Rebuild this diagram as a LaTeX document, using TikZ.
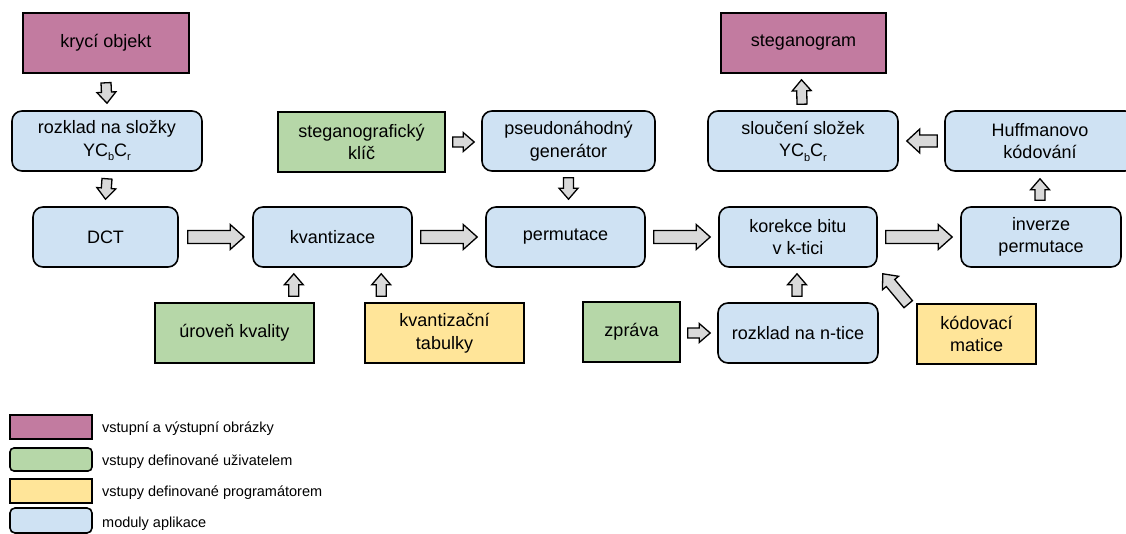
\documentclass[tikz,border=0pt]{standalone}
\usepackage{fontspec}
\setmainfont{Liberation Sans}
\usetikzlibrary{calc}

\definecolor{imgmag}{HTML}{C27BA0}
\definecolor{usrgreen}{HTML}{B6D7A8}
\definecolor{prgyellow}{HTML}{FFE599}
\definecolor{modblue}{HTML}{CFE2F3}
\definecolor{arrgray}{HTML}{D9D9D9}

\newcommand\boxfont{\fontsize{18}{22.5}\selectfont}
\newcommand\legfont{\fontsize{14.5}{17}\selectfont}
\newcommand\lowsub[1]{\raisebox{-4.5pt}{\fontsize{11}{11}\selectfont #1}}
\newcommand\ycbcr{YC\lowsub{b}C\lowsub{r}}

\tikzset{
  box/.style={draw=black, line width=1.6pt, text=black, align=center,
              inner sep=0pt, font=\boxfont, minimum height=60pt},
  modbox/.style={box, fill=modblue, rounded corners=10pt},
  imgbox/.style={box, fill=imgmag},
  userbox/.style={box, fill=usrgreen},
  progbox/.style={box, fill=prgyellow},
  arrowbody/.style={draw=black, fill=arrgray, line width=1.3pt, line join=miter},
  legtext/.style={font=\legfont, inner sep=0pt, anchor=base west, text=black},
}

% block arrow: #1 shaft half-width, #2 head half-width, #3 head length, #4 tail, #5 tip
\newcommand\blockarrow[5]{%
  \path (#4) coordinate (ba-s) (#5) coordinate (ba-e);
  \path ($(ba-e)!#3!(ba-s)$) coordinate (ba-h);
  \draw[arrowbody]
    ($(ba-s)!#1!90:(ba-e)$) -- ($(ba-h)!#1!-90:(ba-s)$) --
    ($(ba-h)!#2!-90:(ba-s)$) -- (ba-e) -- ($(ba-h)!#2!90:(ba-s)$) --
    ($(ba-h)!#1!90:(ba-s)$) -- ($(ba-s)!#1!-90:(ba-e)$) -- cycle;
}
\newcommand\bigarrow[2]{\blockarrow{6.5pt}{12.5pt}{14pt}{#1}{#2}}
\newcommand\midarrow[2]{\blockarrow{6pt}{12pt}{13pt}{#1}{#2}}
\newcommand\smallarrow[2]{\blockarrow{5pt}{9.5pt}{11pt}{#1}{#2}}

\begin{document}
\begin{tikzpicture}[x=1pt, y=-1pt]
\useasboundingbox (0,0) rectangle (1126,534);

% --- input / output images
\node[imgbox, minimum width=166pt] (kryci) at (106,43) {krycí objekt};
\node[imgbox, minimum width=165pt] (steg) at (803.5,43) {steganogram};

% --- application modules
\node[modbox, minimum width=190pt] (rozklad) at (107,141) {rozklad na složky\\\ycbcr};
\node[modbox, minimum width=145pt] (dct) at (105.5,237) {DCT};
\node[modbox, minimum width=159pt] (kvant) at (332.5,237) {kvantizace};
\node[modbox, minimum width=173pt] (pseudo) at (568.5,141) {pseudonáhodný\\generátor};
\node[modbox, minimum width=159pt] (perm) at (565.5,237) {permutace};
\node[modbox, minimum width=158pt] (korekce) at (798,237) {korekce bitu\\v k-tici};
\node[modbox, minimum width=160pt] (inverze) at (1041,237) {inverze\\permutace};
\node[modbox, minimum width=190pt] (huff) at (1040,141) {Huffmanovo\\kódování};
\node[modbox, minimum width=190pt] (slouceni) at (803,141) {sloučení složek\\\ycbcr};
\node[modbox, minimum width=160pt] (ntice) at (798,333) {rozklad na n-tice};

% --- user inputs
\node[userbox, minimum width=167pt] (klic) at (361.5,142) {steganografický\\klíč};
\node[userbox, minimum width=159pt] (uroven) at (234.5,333) {úroveň kvality};
\node[userbox, minimum width=97pt] (zprava) at (631.5,332) {zpráva};

% --- programmer inputs
\node[progbox, minimum width=159pt] (tabulky) at (444.5,333) {kvantizační\\tabulky};
\node[progbox, minimum width=119pt] (matice) at (976.5,334) {kódovací\\matice};

% --- data flow
\smallarrow{$(kryci.south)+(0,9)$}{$(rozklad.north)+(0,-7)$}
\smallarrow{$(rozklad.south)+(0,7)$}{$(dct.north)+(0,-7)$}
\bigarrow{$(dct.east)+(9,0)$}{$(kvant.west)+(-8,0)$}
\bigarrow{$(kvant.east)+(8,0)$}{$(perm.west)+(-8,0)$}
\smallarrow{$(klic.east)+(7,0)$}{$(pseudo.west |- klic.east)+(-7,0)$}
\smallarrow{$(pseudo.south)+(0,6)$}{$(pseudo.south |- perm.north)+(0,-7)$}
\bigarrow{$(perm.east)+(8,0)$}{$(korekce.west)+(-8,0)$}
\bigarrow{$(korekce.east)+(8,0)$}{$(inverze.west)+(-8,0)$}
\smallarrow{$(inverze.north)+(-1,-6)$}{$(huff.south)+(0,7)$}
\midarrow{$(huff.west)+(-7,0)$}{$(slouceni.east)+(8,0)$}
\smallarrow{$(slouceni.north)+(-1,-6)$}{$(steg.south)+(-2,6)$}

\coordinate (q1) at ($(uroven.north east)+(-21,0)$);
\coordinate (q2) at ($(tabulky.north west)+(17,0)$);
\smallarrow{$(q1)+(0,-6)$}{$(q1 |- kvant.south)+(0,6)$}
\smallarrow{$(q2)+(0,-6)$}{$(q2 |- kvant.south)+(0,6)$}

\smallarrow{$(zprava.east)+(7,1)$}{$(ntice.west)+(-7,0)$}
\smallarrow{$(ntice.north)+(-1,-6)$}{$(korekce.south)+(-1,6)$}
\blockarrow{5.5pt}{10.5pt}{12pt}{$(matice.north west)+(-8,1)$}{$(korekce.south east)+(5,6)$}

% --- legend
\node[imgbox, minimum width=82pt, minimum height=24pt] (leg1) at (51,427) {};
\node[userbox, rounded corners=4pt, minimum width=82pt, minimum height=23pt] (leg2) at (51,459.5) {};
\node[progbox, minimum width=82pt, minimum height=24pt] (leg3) at (51,491) {};
\node[modbox, rounded corners=5pt, minimum width=82pt, minimum height=25pt] (leg4) at (51,520.5) {};

\node[legtext] (leg1t) at (102,432) {vstupní a výstupní obrázky};
\node[legtext] (leg2t) at (102,465) {vstupy definované uživatelem};
\node[legtext] (leg3t) at (102,496) {vstupy definované programátorem};
\node[legtext] (leg4t) at (102,527) {moduly aplikace};
\end{tikzpicture}
\end{document}
